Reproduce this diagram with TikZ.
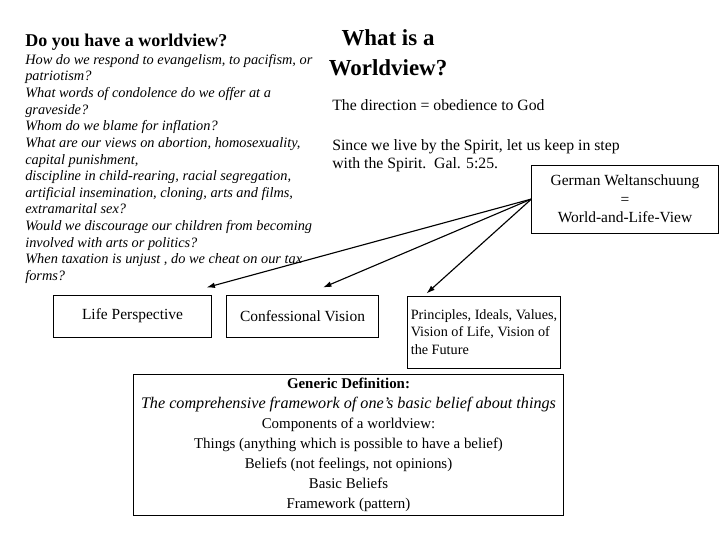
\documentclass[tikz,border=0pt]{standalone}
\usepackage{fontspec}
\setmainfont{Liberation Serif}
\usepackage{tikz}
\usetikzlibrary{arrows.meta, positioning, calc}

\begin{document}
\begin{tikzpicture}[x=0.025cm, y=-0.025cm,
    box/.style={draw=black, line width=0.7pt, inner sep=0pt},
    link/.style={line width=0.8pt, -{Latex[length=6pt, width=4pt]}}]
            \useasboundingbox (0,0) rectangle (720,540);
            % left column
            \node[anchor=base west, inner sep=0, font={\fontsize{12.8}{14}\selectfont\bfseries}] (ask) at (25,46) {Do you have a worldview?};
            \node[anchor=base west, inner sep=0, align=left, font={\fontsize{10.2}{11.83}\selectfont\itshape}] (questions) at (25,280.5) {How do we respond to evangelism, to pacifism, or\\
                patriotism?\\
                What words of condolence do we offer at a\\
                graveside?\\
                Whom do we blame for inflation?\\
                What are our views on abortion, homosexuality,\\
                capital punishment,\\
                discipline in child-rearing, racial segregation,\\
                artificial insemination, cloning, arts and films,\\
                extramarital sex?\\
                Would we discourage our children from becoming\\
                involved with arts or politics?\\
                When taxation is unjust , do we cheat on our tax\\
                forms?};
            % right column
            \node[anchor=base, inner sep=0, align=center, font={\fontsize{16.3}{21.3}\selectfont\bfseries}] (title) at (388,75) {What is a\\Worldview?};
            \node[anchor=base west, inner sep=0, font={\fontsize{11.2}{12.8}\selectfont}] (direction) at (332,110) {The direction = obedience to God};
            \node[anchor=base west, inner sep=0, align=left, font={\fontsize{11.2}{12.8}\selectfont}] (verse) at (332,168) {Since we live by the Spirit, let us keep in step\\with the Spirit.\ \ Gal. 5:25.};
            % boxes
            \node[box, minimum width=4.65cm, minimum height=1.7cm, align=center, font={\fontsize{11}{13.2}\selectfont}] (german) at (625,199) {German Weltanschuung\\=\\World-and-Life-View};
            \node[box, minimum width=3.925cm, minimum height=1.05cm, font={\fontsize{11}{13}\selectfont}] (life) at (132.5,316) {Life Perspective};
            \node[box, minimum width=3.775cm, minimum height=1.05cm, font={\fontsize{11}{13}\selectfont}] (confess) at (302.5,316) {Confessional Vision};
            \node[box, minimum width=3.8cm, minimum height=1.8cm, align=left, font={\fontsize{10.1}{12.4}\selectfont}] (values) at (484,332) {Principles, Ideals, Values,\\Vision of Life, Vision of\\the Future};
            \node[box, minimum width=10.725cm, minimum height=3.525cm, align=center, font={\fontsize{10.6}{14.2}\selectfont}] (generic) at (348.5,445) {\textbf{Generic Definition:}\\
                \textit{\fontsize{11.5}{14.2}\selectfont The comprehensive framework of one's basic belief about things}\\
                Components of a worldview:\\
                Things (anything which is possible to have a belief)\\
                Beliefs (not feelings, not opinions)\\
                Basic Beliefs\\
                Framework (pattern)};
            % arrows
            \draw[link] (german.west) -- ($(life.north east)+(-5,-7)$);
            \draw[link] (german.west) -- ($(confess.north)+(20.5,-7)$);
            \draw[link] (german.west) -- ($(values.north west)+(19,-2)$);
        \end{tikzpicture}
\end{document}
